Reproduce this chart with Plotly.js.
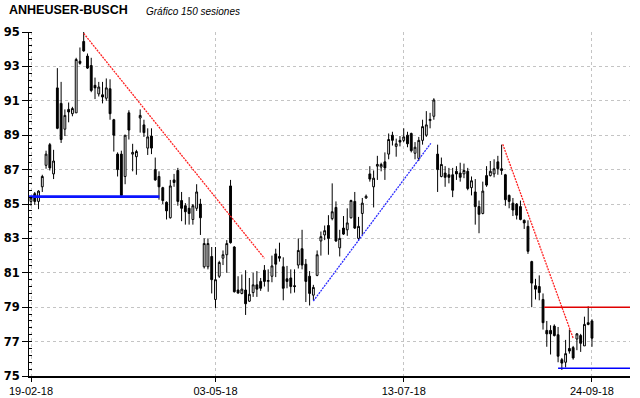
<!DOCTYPE html>
<html>
<head>
<meta charset="utf-8">
<script src="https://cdn.plot.ly/plotly-3.0.1.min.js"></script>
<style>html,body{margin:0;padding:0;background:#fff;}#chart{width:640px;height:398px;}</style>
</head>
<body>
<div id="chart"></div>
<script>
// ---- data (150 sessions, index 0..149) ----
const openP = [85.15,85.6,85.15,86.0,87.25,88.45,86.75,91.75,90.85,89.35,
90.5,90.25,90.3,93.3,94.45,93.6,93.05,91.9,91.4,91.35,
91.15,91.7,89.9,87.9,87.9,86.6,90.3,87.9,87.75,90.0,
89.6,88.25,88.95,87.0,86.6,85.95,85.1,84.2,86.4,86.95,
85.2,84.9,84.75,84.1,84.75,85.0,81.35,81.35,81.95,79.45,
80.8,81.85,82.05,86.05,82.5,80.0,79.8,80.0,79.35,79.85,
80.3,80.5,81.15,80.5,80.8,82.1,81.95,81.35,80.65,80.7,
80.25,81.45,82.4,81.5,80.8,79.7,80.85,82.85,83.2,83.75,
84.15,84.8,82.45,83.6,83.5,84.2,85.15,83.0,84.45,85.35,
86.75,86.0,87.2,87.15,87.45,87.9,89.0,88.35,88.7,88.7,
89.0,89.1,87.95,87.65,88.7,89.0,89.85,90.1,87.9,86.6,
86.8,86.7,86.7,86.9,86.8,86.75,86.9,85.95,85.7,84.85,
84.45,86.65,86.65,86.75,87.45,87.05,86.7,85.5,85.05,85.0,
84.85,84.05,83.7,81.65,80.25,80.2,79.45,77.65,77.65,77.9,
77.4,75.95,75.8,76.6,76.65,77.15,77.35,76.75,78.1,78.2];
const highP = [85.45,85.7,85.8,86.7,88.1,88.55,88.15,92.9,92.1,90.5,
90.9,90.65,93.5,94.1,95.0,93.75,93.5,92.35,92.1,92.1,
92.3,92.25,89.95,88.0,88.1,89.0,90.45,88.5,88.15,90.5,
89.9,89.4,89.4,87.7,86.9,86.0,85.15,86.4,86.75,87.1,
85.7,85.05,85.4,85.0,86.15,85.3,83.0,83.0,82.5,82.5,
81.7,82.3,82.9,86.4,82.55,80.8,80.9,81.15,80.7,81.0,
81.1,80.7,81.45,81.2,82.0,82.4,82.75,81.9,81.4,81.2,
81.2,83.0,83.5,81.8,81.1,80.3,82.3,83.4,83.75,84.35,
86.2,85.15,83.5,84.3,84.75,85.25,85.7,84.25,85.35,85.55,
87.2,86.95,87.8,87.4,88.0,89.1,89.2,88.8,88.95,89.4,
89.2,89.15,88.6,88.9,89.9,90.4,90.3,91.15,88.45,87.7,
87.2,87.1,87.1,87.2,87.4,87.35,87.1,86.6,86.45,85.2,
86.3,87.2,87.5,87.6,87.8,88.45,86.75,85.55,85.35,85.05,
85.2,84.1,84.05,81.7,80.65,80.85,79.8,78.2,77.95,78.0,
77.85,76.05,77.1,77.7,76.75,77.5,77.45,78.45,79.05,78.3];
const lowP = [84.9,84.95,84.7,85.7,87.05,86.95,86.45,89.35,88.55,88.95,
89.75,90.1,90.3,93.1,93.85,92.85,91.5,91.1,91.25,90.85,
91.0,89.9,88.05,86.6,85.45,86.15,88.75,86.9,86.7,89.15,
88.9,87.85,87.9,86.35,85.25,85.0,84.1,84.15,86.0,84.9,
84.0,83.8,83.8,83.8,84.6,83.2,81.25,81.2,79.8,78.95,
80.7,81.45,81.0,82.7,79.85,79.8,79.75,78.55,79.3,79.6,
79.6,79.95,80.2,79.9,80.45,80.75,81.65,79.4,80.1,79.8,
79.85,81.25,81.2,79.3,79.1,79.4,80.8,82.0,82.9,82.05,
84.05,82.8,81.95,83.2,83.15,84.15,83.55,82.85,83.2,85.3,
86.3,84.8,86.4,86.9,86.4,87.6,88.4,87.75,88.35,88.6,
88.3,88.0,87.6,87.5,88.45,88.9,89.4,89.9,85.7,86.55,
86.0,86.2,85.4,86.4,86.3,86.5,85.8,85.5,83.8,83.3,
84.4,86.0,86.6,86.55,86.7,86.7,84.9,84.75,84.3,84.1,
84.05,83.55,82.1,79.0,79.45,79.4,77.7,76.7,76.25,77.3,
75.8,75.35,75.5,76.3,75.95,76.5,76.4,76.75,77.95,76.7];
const closeP = [85.35,85.15,85.75,86.6,87.9,87.1,87.5,89.4,88.75,90.15,
90.35,90.55,93.4,93.18,93.9,92.9,91.6,91.75,91.8,91.22,
91.75,90.25,89.0,87.0,85.5,89.0,89.3,88.0,88.05,90.15,
89.15,88.9,88.25,86.4,86.0,85.2,84.6,86.05,86.25,85.15,
84.75,84.55,84.45,84.9,85.7,84.2,82.7,82.7,80.6,80.6,
81.6,82.05,82.7,82.75,79.9,79.82,80.05,79.2,79.75,80.3,
80.05,80.1,80.5,80.55,81.4,81.5,81.85,80.1,80.5,80.2,
80.2,82.3,81.45,80.5,79.8,80.15,82.05,83.1,83.45,83.0,
84.55,82.85,83.0,83.25,83.9,85.2,83.6,83.7,85.05,85.45,
86.45,86.5,87.3,87.3,87.1,88.75,88.7,88.5,88.6,88.9,
88.5,88.1,88.3,88.7,89.5,89.6,89.92,91.05,87.0,87.3,
86.55,86.55,85.8,86.75,86.55,86.95,85.9,86.35,84.85,84.4,
85.75,86.1,86.9,87.05,87.05,86.95,85.25,85.15,84.65,84.35,
84.1,83.9,82.25,80.4,80.05,79.85,78.1,77.45,77.45,77.35,
76.15,75.75,76.3,76.45,76.05,77.45,76.9,78.0,78.0,77.2];

const tickIdx = [0, 49, 99, 149];
const tickDates = ['19-02-18', '03-05-18', '13-07-18', '24-09-18'];
const priceTicks = [75, 77, 79, 81, 83, 85, 87, 89, 91, 93, 95];

// trend / support lines (session index, price)
const downTrend1X = [14, 62],   downTrend1Y = [94.92, 81.84];
const downTrend2X = [125.3, 144], downTrend2Y = [88.47, 77.2];
const upTrendX = [75, 106.2],    upTrendY = [79.36, 88.53];
const support1X = [-0.5, 34.1],  support1Y = [85.43, 85.43];
const resist1X = [136.3, 160],   resist1Y = [79.0, 79.0];
const support2X = [140, 160],    support2Y = [75.45, 75.45];

const idx = openP.map((_, i) => i);

const traces = [
  {type:'scatter', mode:'lines', x:support1X, y:support1Y, line:{color:'#0a14ff', width:2.6}, hoverinfo:'skip'},
  {type:'scatter', mode:'lines', x:resist1X, y:resist1Y, line:{color:'#e00000', width:1.4}, hoverinfo:'skip'},
  {type:'scatter', mode:'lines', x:support2X, y:support2Y, line:{color:'#0000ff', width:1.4}, hoverinfo:'skip'},
  {type:'scatter', mode:'lines', x:downTrend1X, y:downTrend1Y, line:{color:'#ff2020', width:1.3, dash:'2px,1px'}, hoverinfo:'skip'},
  {type:'scatter', mode:'lines', x:downTrend2X, y:downTrend2Y, line:{color:'#ff2020', width:1.3, dash:'2px,1px'}, hoverinfo:'skip'},
  {type:'scatter', mode:'lines', x:upTrendX, y:upTrendY, line:{color:'#2a2aff', width:1.3, dash:'2px,1px'}, hoverinfo:'skip'},
  {type:'candlestick', x:idx, open:openP, high:highP, low:lowP, close:closeP,
   increasing:{line:{color:'#000', width:1}, fillcolor:'#ffffff'},
   decreasing:{line:{color:'#000', width:1}, fillcolor:'#000000'},
   whiskerwidth:0, hoverinfo:'skip'}
];

const layout = {
  width:640, height:398,
  margin:{l:29, r:10, t:32, b:22},
  paper_bgcolor:'#ffffff', plot_bgcolor:'#ffffff',
  showlegend:false,
  xaxis:{
    range:[-0.53, 159.1], rangeslider:{visible:false},
    tickmode:'array', tickvals:tickIdx, ticktext:tickDates,
    ticks:'outside', ticklen:4, tickcolor:'#000', tickwidth:1,
    showline:true, linecolor:'#000', linewidth:2,
    showgrid:true, gridcolor:'#c4c4c4', griddash:'dot', gridwidth:1,
    zeroline:false,
    tickfont:{family:'Liberation Sans, Arial', size:11, color:'#000'}
  },
  yaxis:{
    range:[75, 95],
    tickmode:'array', tickvals:priceTicks,
    ticks:'outside', ticklen:6, tickcolor:'#000', tickwidth:1,
    showline:true, linecolor:'#000', linewidth:1,
    showgrid:true, gridcolor:'#c4c4c4', griddash:'dot', gridwidth:1,
    zeroline:false,
    minor:{tick0:75, dtick:0.4, ticks:'inside', ticklen:3, tickcolor:'#000', tickwidth:1, showgrid:false},
    tickfont:{family:'DejaVu Sans', size:11.5, color:'#000', weight:'bold'}
  },
  annotations:[
    {xref:'paper', yref:'paper', x:-0.036, y:1.064, xanchor:'left', yanchor:'middle', showarrow:false,
     text:'<b>ANHEUSER-BUSCH</b>', font:{family:'Liberation Sans, Arial', size:12.5, color:'#000'}},
    {xref:'paper', yref:'paper', x:0.191, y:1.061, xanchor:'left', yanchor:'middle', showarrow:false,
     text:'<i>Gráfico 150 sesiones</i>', font:{family:'Liberation Sans, Arial', size:10, color:'#000'}}
  ]
};

Plotly.newPlot('chart', traces, layout, {displayModeBar:false, staticPlot:true});
</script>
</body>
</html>
